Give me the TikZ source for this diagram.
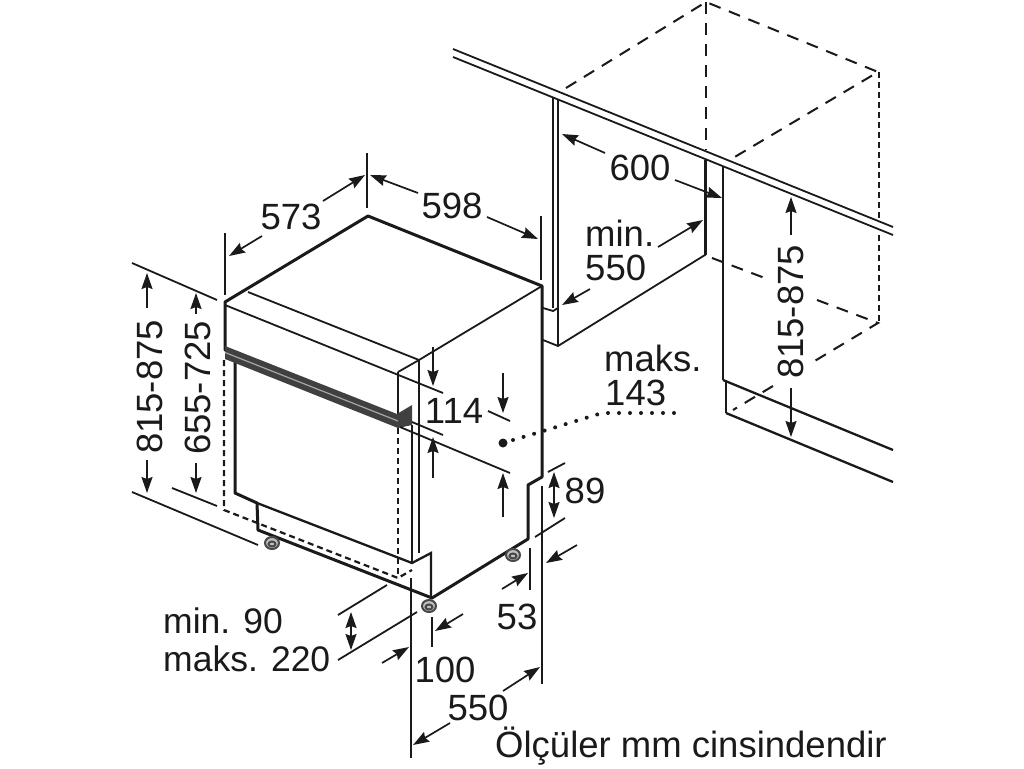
\documentclass[tikz,border=0pt]{standalone}
\usepackage{fontspec}
\setmainfont{Liberation Sans}
\usetikzlibrary{arrows.meta}
\definecolor{ink}{HTML}{1A1A1A}
\tikzset{
 thin line/.style={line width=1.8pt,draw=ink},
 thick line/.style={line width=3pt,draw=ink,line cap=round,line join=round},
 med line/.style={line width=2.3pt,draw=ink},
 dash line/.style={line width=2pt,draw=ink,dash pattern=on 12pt off 9pt},
 fine dash/.style={line width=2.2pt,draw=ink,dash pattern=on 6pt off 4pt},
 dim/.style={line width=1.7pt,draw=ink,-{Stealth[length=16pt,width=11pt,inset=2pt]}},
 ddim/.style={line width=1.7pt,draw=ink,{Stealth[length=16pt,width=11pt,inset=2pt]}-{Stealth[length=16pt,width=11pt,inset=2pt]}},
 lab/.style={font=\fontsize{36.5}{40}\selectfont,text=ink,inner sep=0pt},
 footm/.style={line width=2pt,draw=ink!80,fill=black!25},
}
\begin{document}
\begin{tikzpicture}[x=1pt,y=-1pt]
\useasboundingbox[fill=white] (0,0) rectangle (1024,768);
% cabinets
\draw[thin line] (453,49) -- (893,227);
\draw[thin line] (453,57) -- (893,235);
\draw[med line] (553,97) -- (553,308);
\draw[med line] (558,100) -- (558,345);
\draw[thin line] (543,308) -- (553,311) -- (558,308);
\draw[thin line] (543,340) -- (558,346) -- (705,255) -- (705,160);
\draw[med line] (706,160) -- (706,255);
\draw[med line] (723,167) -- (723,380);
\draw[med line] (723,380) -- (893,450);
\draw[med line] (726,380) -- (726,413);
\draw[med line] (726,413) -- (893,482);
% dashed carcass
\draw[dash line] (566,88) -- (706,2) -- (878,72) -- (733,158);
\draw[dash line] (706,2) -- (706,150);
\draw[fine dash] (879,72) -- (879,220);
\draw[fine dash] (879,235) -- (879,322);
\draw[dash line] (712,258) -- (770,280);
\draw[dash line] (817,300) -- (878,323) -- (808,365);
\draw[dash line] (773,386) -- (733,410);
% appliance
\draw[thick line] (225,350) -- (225,302) -- (368,216) -- (542,286) -- (542,477) -- (528,485) -- (528,539) -- (432,598) -- (258,530) -- (257,503) -- (235,493) -- (235,360);
\draw[thin line] (248,292) -- (419,360) -- (542,286);
\draw[thin line] (225,305) -- (443,393);
\draw[thin line] (398,372) -- (419,360);
\draw[med line] (398,372) -- (398,417);
\draw[med line] (419,360) -- (419,553);
\draw[med line] (412,425) -- (412,563);
\draw[med line] (257,503) -- (412,563) -- (431,553) -- (431,598);
% handle
\fill[black!75] (225,346) -- (397,414) -- (412,405) -- (412,425) -- (398,428) -- (225,359) -- cycle;
\draw[line width=1.2pt,draw=black!35] (225,352.5) -- (398,421);
% dashed door
\draw[fine dash] (224,360) -- (224,510) -- (398,578) -- (412,570);
\draw[fine dash] (398,428) -- (398,578);
% feet
\draw[footm] (272,543) ellipse (7pt and 6pt);
\draw[footm] (272,544) ellipse (3.5pt and 2.5pt);
\draw[footm] (429,606) ellipse (7pt and 6pt);
\draw[footm] (429,607) ellipse (3.5pt and 2.5pt);
\draw[footm] (513,555) ellipse (7pt and 6pt);
\draw[footm] (513,556) ellipse (3.5pt and 2.5pt);
% top dims
\draw[thin line] (225,233) -- (225,295);
\draw[thin line] (367,153) -- (367,208);
\draw[thin line] (541,216) -- (541,280);
\draw[dim] (262,236) -- (229,256);
\draw[dim] (323,201) -- (365,175);
\draw[dim] (418,193) -- (370,175);
\draw[dim] (487,217) -- (538,239);
% left dims
\draw[thin line] (132,263) -- (217,300);
\draw[thin line] (132,492) -- (258,545);
\draw[thin line] (172,488) -- (217,506);
\draw[dim] (147,308) -- (147,273);
\draw[dim] (147,460) -- (147,493);
\draw[dim] (196,314) -- (196,293);
\draw[dim] (196,463) -- (196,493);
% 114
\draw[thin line] (412,422) -- (443,435);
\draw[thin line] (400,427) -- (510,473);
\draw[thin line] (488,411) -- (510,421);
\draw[dim] (433,347) -- (433,386);
\draw[dim] (433,478) -- (433,437);
\draw[dim] (503,373) -- (503,413);
\draw[dim] (503,517) -- (503,473);
% dotted
\fill[ink] (503,443) circle (4.5pt);
\draw[line width=4pt,draw=ink,dash pattern=on 0pt off 11pt,line cap=round] (513,440) -- (540,432) -- (602,413) -- (680,413);
% 89
\draw[thin line] (548,472) -- (565,463);
\draw[thin line] (535,537) -- (565,518);
\draw[ddim] (554,472) -- (554,518);
\draw[med line] (542,486) -- (542,684);
\draw[med line] (530,548) -- (530,590);
\draw[dim] (577,545) -- (546,563);
\draw[dim] (502,589) -- (528,573);
% bottom dims
\draw[thin line] (338,615) -- (387,585);
\draw[thin line] (338,660) -- (417,612);
\draw[ddim] (351,612) -- (351,650);
\draw[med line] (411,578) -- (411,758);
\draw[med line] (432,617) -- (432,647);
\draw[dim] (463,614) -- (435,631);
\draw[dim] (382,663) -- (409,647);
\draw[dim] (450,723) -- (413,745);
\draw[dim] (503,691) -- (540,667);
% upper right dims
\draw[dim] (605,153) -- (562,134);
\draw[dim] (675,180) -- (722,198);
\draw[dim] (658,247) -- (703,220);
\draw[dim] (590,289) -- (562,305);
\draw[dim] (791,235) -- (791,197);
\draw[dim] (791,388) -- (791,437);
% labels
\node[lab] (l573) at (291,217) {573};
\node[lab] (l598) at (452,206) {598};
\node[lab] (l600) at (640,168) {600};
\node[lab,anchor=west] (lmin) at (585,233) {min.};
\node[lab,anchor=west] (l550a) at (585,268) {550};
\node[lab,anchor=west] (lmaks) at (604,358) {maks.};
\node[lab,anchor=west] (l143) at (605,393) {143};
\node[lab] (l114) at (454,411) {114};
\node[lab] (l89) at (585,491) {89};
\node[lab] (l53) at (517,617) {53};
\node[lab] (l100) at (445,670) {100};
\node[lab] (l550b) at (478,708) {550};
\node[lab,anchor=west,font=\fontsize{35.5}{40}\selectfont] (lm90) at (163,621) {min. 90};
\node[lab,anchor=west,font=\fontsize{35.5}{40}\selectfont] (lm220) at (163,659) {maks. 220};
\node[lab,anchor=west] (lolc) at (495,746) {Ölçüler mm cinsindendir};
\node[lab,rotate=90] (ll815) at (150,387) {815-875};
\node[lab,rotate=90] (ll655) at (198,388) {655-725};
\node[lab,rotate=90] (lr815) at (791,312) {815-875};
\end{tikzpicture}
\end{document}
